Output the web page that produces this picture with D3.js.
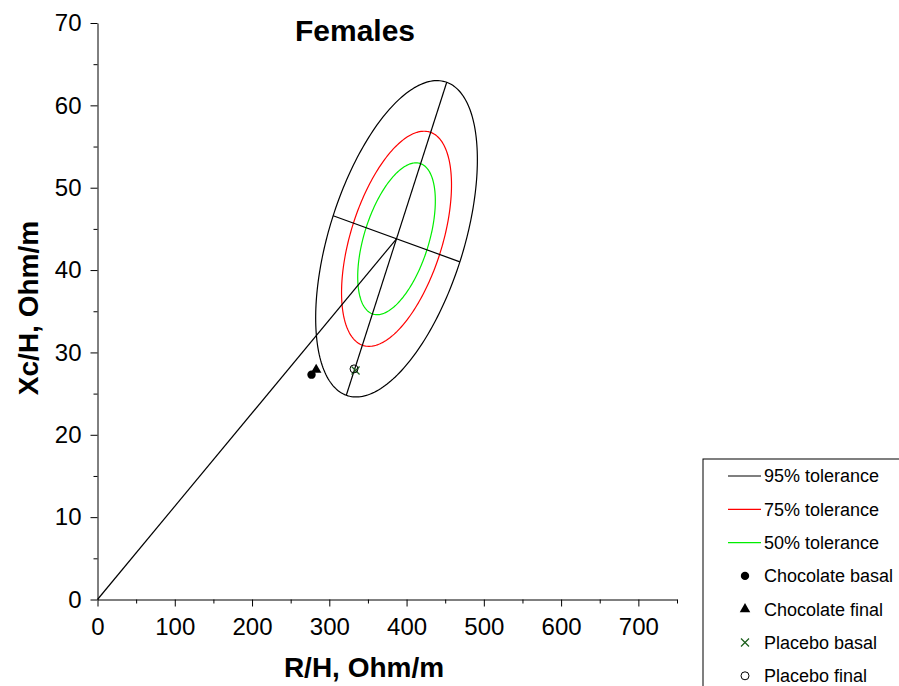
<!DOCTYPE html>
<html>
<head>
<meta charset="utf-8">
<script src="https://cdn.jsdelivr.net/npm/d3@7"></script>
<style>
  body { margin: 0; background: #fff; }
  svg { display: block; font-family: Arial, "Liberation Sans", sans-serif; }
</style>
</head>
<body>
<div id="chart"></div>
<script>
// RXc tolerance ellipses, females
const toleranceLabels = ['95% tolerance', '75% tolerance', '50% tolerance'];
const toleranceScale = [1, 0.68, 0.48];
const ellipseCenter = [387, 43.8];
const majorAxisEnd = [452, 62.8];
const minorAxisEnd = [305, 46.6];

const groupLabels = ['Chocolate basal', 'Chocolate final', 'Placebo basal', 'Placebo final'];
const groupR = [277, 283, 334, 332];
const groupXc = [27.3, 27.9, 27.8, 28.0];

const xMajorTicks = [0, 100, 200, 300, 400, 500, 600, 700];
const xMinorTicks = [50, 150, 250, 350, 450, 550, 650, 750];
const yMajorTicks = [0, 10, 20, 30, 40, 50, 60, 70];
const yMinorTicks = [5, 15, 25, 35, 45, 55, 65];

const toleranceColors = ['#000000', '#ff0000', '#00ee00'];

const width = 899, height = 686;
const svg = d3.select('#chart').append('svg').attr('width', width).attr('height', height);

const x = d3.scaleLinear().domain([0, 750]).range([97.5, 677]);
const y = d3.scaleLinear().domain([0, 70]).range([599.5, 23]);

// axes
svg.append('g').attr('transform', `translate(0,${y(0)})`)
  .call(d3.axisBottom(x).tickValues(xMajorTicks).tickSizeInner(7).tickSizeOuter(0).tickPadding(11));
svg.append('g').attr('transform', `translate(0,${y(0)})`)
  .call(d3.axisBottom(x).tickValues(xMinorTicks).tickSizeInner(4).tickSizeOuter(0).tickFormat(''))
  .select('.domain').remove();
svg.append('g').attr('transform', `translate(${x(0)},0)`)
  .call(d3.axisLeft(y).tickValues(yMajorTicks).tickSizeInner(7).tickSizeOuter(0).tickPadding(9));
svg.append('g').attr('transform', `translate(${x(0)},0)`)
  .call(d3.axisLeft(y).tickValues(yMinorTicks).tickSizeInner(4).tickSizeOuter(0).tickFormat(''))
  .select('.domain').remove();
svg.selectAll('.tick text').style('font-size', '24px').attr('fill', '#000');
svg.selectAll('.domain, .tick line').attr('stroke', '#000');

// titles
svg.append('text').attr('x', 355).attr('y', 41).attr('text-anchor', 'middle')
  .style('font-size', '30px').style('font-weight', 'bold').text('Females');
svg.append('text').attr('x', 364).attr('y', 677).attr('text-anchor', 'middle')
  .style('font-size', '28px').style('font-weight', 'bold').text('R/H, Ohm/m');
svg.append('text').attr('transform', 'translate(38,308) rotate(-90)').attr('text-anchor', 'middle')
  .style('font-size', '28px').style('font-weight', 'bold').text('Xc/H, Ohm/m');

// ellipses through conjugate axis ends
const u = [majorAxisEnd[0] - ellipseCenter[0], majorAxisEnd[1] - ellipseCenter[1]];
const v = [minorAxisEnd[0] - ellipseCenter[0], minorAxisEnd[1] - ellipseCenter[1]];
const angles = d3.range(0, 2 * Math.PI, Math.PI / 120);
const line = d3.line().x(d => x(d[0])).y(d => y(d[1]));

toleranceScale.forEach((s, i) => {
  const pts = angles.map(t => [
    ellipseCenter[0] + s * (Math.cos(t) * u[0] + Math.sin(t) * v[0]),
    ellipseCenter[1] + s * (Math.cos(t) * u[1] + Math.sin(t) * v[1])
  ]);
  svg.append('path').attr('d', line.curve(d3.curveLinearClosed)(pts))
    .attr('fill', 'none').attr('stroke', toleranceColors[i]).attr('stroke-width', 1.2);
});
line.curve(d3.curveLinear);

// axis lines and vector from origin
const segs = [
  [[ellipseCenter[0] - u[0], ellipseCenter[1] - u[1]], majorAxisEnd],
  [[ellipseCenter[0] - v[0], ellipseCenter[1] - v[1]], minorAxisEnd],
  [[0, 0], ellipseCenter]
];
segs.forEach(s => svg.append('path').attr('d', line(s)).attr('fill', 'none').attr('stroke', '#000').attr('stroke-width', 1.2));

// points
function drawMarker(g, k, cx, cy) {
  if (k === 0) g.append('circle').attr('cx', cx).attr('cy', cy).attr('r', 4.2).attr('fill', '#000');
  else if (k === 1) g.append('path').attr('transform', `translate(${cx},${cy})`)
    .attr('d', d3.symbol(d3.symbolTriangle, 48)()).attr('fill', '#000');
  else if (k === 2) g.append('path')
    .attr('d', `M${cx - 4},${cy - 4}L${cx + 4},${cy + 4}M${cx - 4},${cy + 4}L${cx + 4},${cy - 4}`)
    .attr('stroke', '#1a5e1a').attr('stroke-width', 1.2).attr('fill', 'none');
  else g.append('circle').attr('cx', cx).attr('cy', cy).attr('r', 4).attr('fill', 'none')
    .attr('stroke', '#000').attr('stroke-width', 1);
}
const pts = svg.append('g');
groupLabels.forEach((name, k) => drawMarker(pts, k, x(groupR[k]), y(groupXc[k])));

// legend
const legend = svg.append('g').attr('transform', 'translate(703,459)');
legend.append('rect').attr('x', 0).attr('y', 0).attr('width', 260).attr('height', 260)
  .attr('fill', '#fff').attr('stroke', '#000').attr('stroke-width', 1);
const legendRows = toleranceLabels.concat(groupLabels);
legendRows.forEach((name, i) => {
  const ry = 17 + i * 33.3;
  if (i < 3) legend.append('line').attr('x1', 25).attr('x2', 58).attr('y1', ry).attr('y2', ry)
    .attr('stroke', toleranceColors[i]).attr('stroke-width', 1.2);
  else drawMarker(legend, i - 3, 42, ry);
  legend.append('text').attr('x', 61).attr('y', ry).attr('dy', '0.35em')
    .style('font-size', '18px').text(name);
});
</script>
</body>
</html>
